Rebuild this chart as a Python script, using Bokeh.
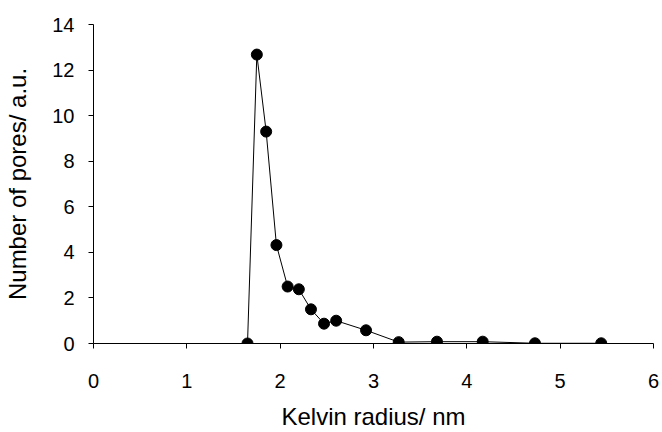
from bokeh.plotting import figure
from bokeh.models import FixedTicker, Range1d
from bokeh.embed import file_html
from bokeh.resources import INLINE

# Data
radius_nm = [1.65, 1.75, 1.85, 1.96, 2.08, 2.20, 2.33, 2.47, 2.60, 2.92, 3.27, 3.68, 4.17, 4.73, 5.44]
pores_au = [0.0, 12.68, 9.30, 4.32, 2.50, 2.38, 1.50, 0.87, 1.00, 0.58, 0.06, 0.08, 0.08, 0.01, 0.01]

x_ticks = [0, 1, 2, 3, 4, 5, 6]
y_ticks = [0, 2, 4, 6, 8, 10, 12, 14]

FONT = "Liberation Sans"

p = figure(width=662, height=432, output_backend="svg", toolbar_location=None,
           x_range=Range1d(0, 6), y_range=Range1d(0, 14),
           min_border_left=93, min_border_right=9, min_border_top=24, min_border_bottom=89,
           x_axis_label="Kelvin radius/ nm", y_axis_label="Number of pores/ a.u.")
p.outline_line_color = None
p.grid.visible = False
p.background_fill_color = "white"
p.border_fill_color = "white"

for ax in (p.xaxis[0], p.yaxis[0]):
    ax.axis_line_color = "black"
    ax.axis_line_width = 1
    ax.major_tick_line_color = "black"
    ax.major_tick_in = 0
    ax.major_tick_out = 5
    ax.minor_tick_line_color = None
    ax.major_label_text_font = FONT
    ax.major_label_text_font_size = "20px"
    ax.major_label_text_color = "black"
    ax.axis_label_text_font = FONT
    ax.axis_label_text_font_size = "24px"
    ax.axis_label_text_font_style = "normal"
    ax.axis_label_text_color = "black"

p.xaxis.ticker = FixedTicker(ticks=x_ticks)
p.yaxis.ticker = FixedTicker(ticks=y_ticks)
p.xaxis.major_label_standoff = 25
p.xaxis.axis_label_standoff = 12
p.yaxis.major_label_standoff = 14
p.yaxis.axis_label_standoff = 18

p.line(radius_nm, pores_au, line_color="black", line_width=1)
p.scatter(radius_nm, pores_au, marker="circle", size=11, fill_color="black", line_color="black")

open("out.html", "w").write(file_html(p, INLINE))
